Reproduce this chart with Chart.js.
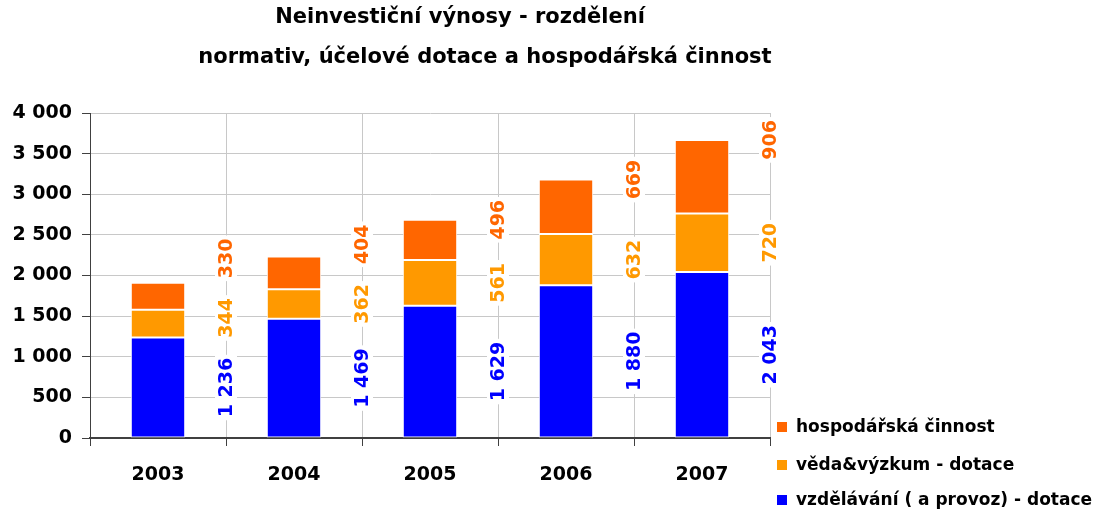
<!DOCTYPE html>
<html>
<head>
<meta charset="utf-8">
<script src="https://cdn.jsdelivr.net/npm/chart.js@4.4.1/dist/chart.umd.min.js"></script>
<style>
  html, body { margin: 0; padding: 0; background: #fff; }
  #wrap { width: 1104px; height: 510px; }
</style>
</head>
<body>
<div id="wrap"><canvas id="vynosy"></canvas></div>
<script>
var years = ['2003', '2004', '2005', '2006', '2007'];
var vzdelavani = [1236, 1469, 1629, 1880, 2043];
var vedaVyzkum = [344, 362, 561, 632, 720];
var hospodarska = [330, 404, 496, 669, 906];
var seriesNames = ['vzdělávání ( a provoz) - dotace', 'věda&výzkum - dotace', 'hospodářská činnost'];
var seriesColors = ['#0000FF', '#FF9900', '#FF6600'];
var titleLines = ['Neinvestiční výnosy - rozdělení', 'normativ, účelové dotace a hospodářská činnost'];
var yTicks = [0, 500, 1000, 1500, 2000, 2500, 3000, 3500, 4000];

var FONT = '"DejaVu Sans", "Liberation Sans", Arial, sans-serif';

function formatNum(v){
  // thousands separated by a space
  return String(v).replace(/\B(?=(\d{3})+(?!\d))/g, ' ');
}

var titlePlugin = {
  id: 'titleLines',
  afterDraw: function(chart){
    var ctx = chart.ctx;
    ctx.save();
    ctx.fillStyle = '#000';
    ctx.font = 'bold 21px ' + FONT;
    ctx.textAlign = 'center';
    ctx.textBaseline = 'middle';
    ctx.fillText(titleLines[0], 460, 18);
    ctx.fillText(titleLines[1], 485, 58);
    ctx.restore();
  }
};

var valueLabels = {
  id: 'valueLabels',
  afterDatasetsDraw: function(chart){
    var ctx = chart.ctx;
    var xs = chart.scales.x;
    var catW = xs.width / years.length;
    ctx.save();
    ctx.font = 'bold 19px ' + FONT;
    ctx.textBaseline = 'middle';
    ctx.textAlign = 'center';
    for(var i=0;i<years.length;i++){
      var prevTop = null;
      for(var d=0;d<chart.data.datasets.length;d++){
        var el = chart.getDatasetMeta(d).data[i];
        var val = chart.data.datasets[d].data[i];
        var txt = formatNum(val);
        var w = ctx.measureText(txt).width;
        var cy = (d == 2) ? el.y : (el.y + el.base) / 2;
        // keep labels apart
        if(prevTop != null && cy + w/2 > prevTop - 20){
          cy = prevTop - 20 - w/2;
        }
        prevTop = cy - w/2;
        var cx = el.x + catW / 2;
        ctx.save();
        ctx.translate(cx, cy);
        ctx.rotate(-Math.PI / 2);
        ctx.fillStyle = '#fff';
        ctx.fillRect(-w/2 - 3, -11, w + 6, 22);
        ctx.fillStyle = seriesColors[d];
        ctx.fillText(txt, 0, 1);
        ctx.restore();
      }
    }
    ctx.restore();
  }
};

var sideLegend = {
  id: 'sideLegend',
  afterDraw: function(chart){
    var ctx = chart.ctx;
    var rows = [427, 465, 500];
    ctx.save();
    ctx.font = 'bold 17px ' + FONT;
    ctx.textBaseline = 'middle';
    ctx.textAlign = 'left';
    for(var k=0;k<3;k++){
      var d = 2 - k;
      ctx.fillStyle = seriesColors[d];
      ctx.fillRect(777, rows[k] - 5, 10, 10);
      ctx.fillStyle = '#000';
      ctx.fillText(seriesNames[d], 796, rows[k] + 1);
    }
    ctx.restore();
  }
};

var datasets = [vzdelavani, vedaVyzkum, hospodarska].map(function(arr, d){
  return {
    label: seriesNames[d],
    data: arr,
    backgroundColor: seriesColors[d],
    borderColor: '#ffffff',
    borderWidth: 1,
    borderSkipped: false,
    categoryPercentage: 1,
    barPercentage: 0.4
  };
});

var ctx = document.getElementById('vynosy');
window.bar = new Chart(ctx, {
  type: 'bar',
  data: { labels: years, datasets: datasets },
  options: {
    responsive: true,
    maintainAspectRatio: false,
    animation: false,
    layout: { padding: { top: 113, right: 334, bottom: 0, left: 0 } },
    plugins: {
      legend: { display: false },
      title: { display: false },
      tooltip: { enabled: false }
    },
    scales: {
      x: {
        stacked: true,
        grid: { color: '#c8c8c8', tickColor: '#404040', tickLength: 8, offset: true },
        border: { color: '#404040', width: 2 },
        ticks: { color: '#000', font: { family: FONT, size: 19, weight: 'bold' }, padding: 18 },
        afterFit: function(s){ s.height = 72; }
      },
      y: {
        stacked: true,
        min: 0,
        max: 4000,
        grid: { color: '#c8c8c8', tickColor: '#404040', tickLength: 8 },
        border: { color: '#404040', width: 1 },
        afterBuildTicks: function(s){ s.ticks = yTicks.map(function(v){ return { value: v }; }); },
        ticks: {
          color: '#000',
          font: { family: FONT, size: 19, weight: 'bold' },
          padding: 10,
          callback: function(v){ return formatNum(v); }
        },
        afterFit: function(s){ s.width = 90; }
      }
    }
  },
  plugins: [titlePlugin, valueLabels, sideLegend]
});
</script>
</body>
</html>
